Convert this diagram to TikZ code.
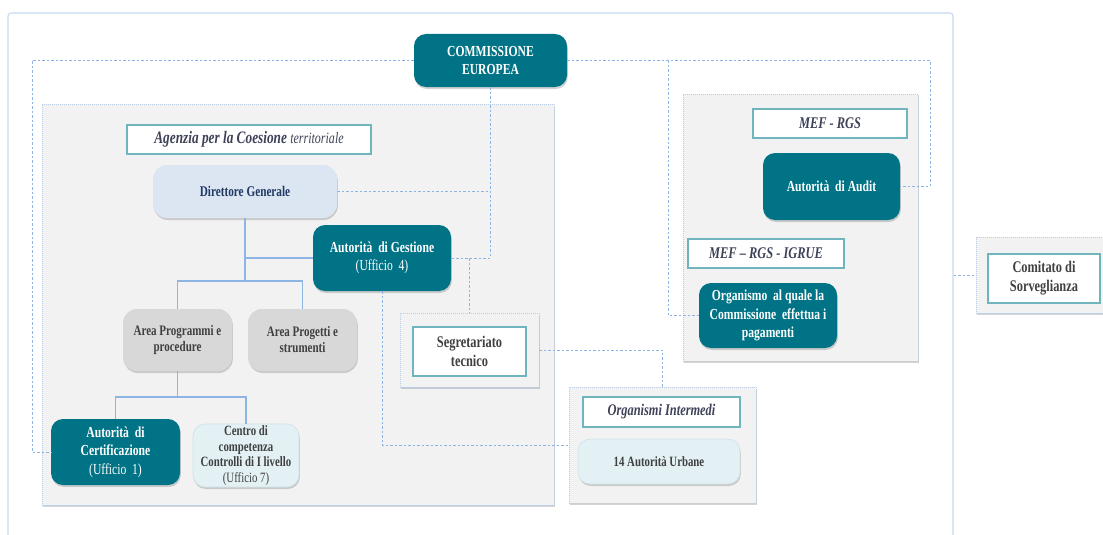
\documentclass[tikz,border=0pt]{standalone}
\usepackage{fontspec}
\setmainfont{Liberation Serif}[FakeStretch=0.76]
\usepackage{tikz}
\usepackage{xcolor}
\usetikzlibrary{shadows}

\definecolor{cteal}{RGB}{0,116,134}
\definecolor{cdg}{RGB}{220,230,242}
\definecolor{cnavy}{RGB}{31,56,100}
\definecolor{carea}{RGB}{216,216,216}
\definecolor{cgray}{RGB}{64,64,64}
\definecolor{cpale}{RGB}{227,241,245}
\definecolor{cpaleline}{RGB}{205,225,232}
\definecolor{cgroup}{RGB}{242,242,242}
\definecolor{cgrpline}{RGB}{185,205,229}
\definecolor{clabel}{RGB}{112,180,190}
\definecolor{cslate}{RGB}{62,66,88}
\definecolor{cline}{RGB}{142,180,227}
\definecolor{cframe}{RGB}{198,217,241}

\begin{document}
\begin{tikzpicture}[x=1pt,y=-1pt,
		shd/.style={drop shadow={opacity=.35,shadow xshift=.8pt,shadow yshift=-2pt}},
		outer/.style={draw=cframe,line width=1.1pt,rounded corners=3pt},
		grp/.style={rectangle,fill=cgroup,draw=cgrpline,line width=.8pt,dash pattern=on 1pt off 1pt,shd},
		lbl/.style={rectangle,fill=white,draw=clabel,line width=1.3pt,text=cslate,font=\bfseries\itshape\fontsize{16.3}{18}\selectfont},
		auth/.style={rectangle,rounded corners=12pt,fill=cteal,text=white,align=center,font=\bfseries\fontsize{15.3}{18.5}\selectfont,shd},
		dir/.style={rectangle,rounded corners=14pt,fill=cdg,text=cnavy,font=\bfseries\fontsize{14.8}{16}\selectfont,shd},
		area/.style={rectangle,rounded corners=14pt,fill=carea,text=cgray,align=center,font=\bfseries\fontsize{14.5}{16}\selectfont,shd},
		pale/.style={rectangle,rounded corners=12pt,fill=cpale,draw=cpaleline,line width=.6pt,text=cgray,align=center,shd},
		conn/.style={draw=cline,line width=1.3pt},
		dsh/.style={draw=cline,line width=1pt,dash pattern=on 2.5pt off 2pt}]
	\useasboundingbox (0,0) rectangle (1103,535);
	\clip (0,0) rectangle (1103,535);

	\node (frm) at (480.5,290) [outer,minimum width=945pt,minimum height=554pt] {};
	\node (agz) at (298,304.5) [grp,minimum width=512pt,minimum height=401pt] {};
	\node (mef) at (800.5,227.5) [grp,minimum width=235pt,minimum height=267pt] {};
	\node (oig) at (662.5,445) [grp,minimum width=187pt,minimum height=116pt] {};
	\node (sgo) at (469.5,350) [grp,minimum width=139pt,minimum height=74pt] {};
	\node (csg) at (1043,275) [grp,minimum width=134pt,minimum height=76pt] {};

	\node (ce) at (490.5,60.5) [auth,minimum width=153pt,minimum height=53pt] {COMMISSIONE\\EUROPEA};
	\node (agzl) at (249,139.5) [lbl,minimum width=244pt,minimum height=29pt,font=\bfseries\itshape\fontsize{17.5}{19}\selectfont] {Agenzia per la Coesione {\mdseries\fontsize{15.8}{17}\selectfont territoriale}};
	\node (dg) at (245,191.5) [dir,minimum width=184pt,minimum height=53pt] {Direttore Generale};
	\node (adg) at (382,258) [auth,minimum width=138pt,minimum height=66pt] {Autorità\ \ di Gestione\\{\mdseries(Ufficio\ \ 4)}};
	\node (apr) at (177.5,340) [area,minimum width=109pt,minimum height=62pt] {Area Programmi e\\procedure};
	\node (aps) at (302.5,340) [area,minimum width=109pt,minimum height=62pt] {Area Progetti e\\strumenti};
	\node (adc) at (115.5,452) [auth,minimum width=129pt,minimum height=66pt] {Autorità\ \ di\\Certificazione\\{\mdseries(Ufficio\ \ 1)}};
	\node (ccc) at (246,455.5) [pale,inner sep=0pt,minimum width=106pt,minimum height=63pt,font=\bfseries\fontsize{14.2}{15.5}\selectfont] {Centro di\\competenza\\Controlli di I livello\\{\mdseries(Ufficio 7)}};
	\node (sgt) at (469.5,351.5) [lbl,text=cgray,align=center,minimum width=113pt,minimum height=49pt,font=\bfseries\fontsize{16.3}{19}\selectfont] {Segretariato\\tecnico};
	\node (oil) at (661.5,412) [lbl,minimum width=157pt,minimum height=30pt] {Organismi Intermedi};
	\node (au) at (659,461.5) [pale,minimum width=162pt,minimum height=45pt,font=\bfseries\fontsize{14.2}{15}\selectfont] {14 Autorità Urbane};
	\node (mefl) at (830,123.5) [lbl,minimum width=154pt,minimum height=29pt] {MEF - RGS};
	\node (aa) at (831.5,186.5) [auth,minimum width=137pt,minimum height=67pt] {Autorità\ \ di Audit};
	\node (igl) at (766,253.5) [lbl,minimum width=156pt,minimum height=29pt] {MEF -- RGS - IGRUE};
	\node (opc) at (768,315.5) [auth,minimum width=138pt,minimum height=65pt] {Organismo\ \ al quale la\\Commissione\ \ effettua i\\pagamenti};
	\node (csi) at (1044,278.5) [lbl,text=cgray,align=center,minimum width=112pt,minimum height=49pt,font=\bfseries\fontsize{16.3}{19}\selectfont] {Comitato di\\Sorveglianza};

	\coordinate (t1) at (245,281);
	\coordinate (t2) at (177.5,397);
	\draw[conn] (dg.south) -- (t1);
	\draw[conn] (dg.south |- adg.west) -- (adg.west);
	\draw[conn] (t1) -| (apr.north);
	\draw[conn] (t1) -| (aps.north);
	\draw[conn] (apr.south) -- (t2);
	\draw[conn] (t2) -| (adc.north);
	\draw[conn] (t2) -| (ccc.north);

	\coordinate (cl) at (32,60.5);
	\coordinate (cr) at (930,60.5);
	\coordinate (cb) at (668,60.5);
	\draw[dsh] (ce.west) -- (cl) |- (adc.west);
	\draw[dsh] (ce.east) -- (cr) |- (aa.east);
	\draw[dsh] (cb) |- (opc.west);
	\draw[dsh] (ce.south) |- (adg.east);
	\draw[dsh] (dg.east) -- (dg.east -| ce.south);
	\draw[dsh] (adg.east -| sgo.north) -- (sgo.north);
	\draw[dsh] (adg.south) |- (oig.west);
	\draw[dsh] (sgo.east) -| (oig.north);
	\draw[dsh] (frm.east |- csg.west) -- (csg.west);
\end{tikzpicture}
\end{document}
